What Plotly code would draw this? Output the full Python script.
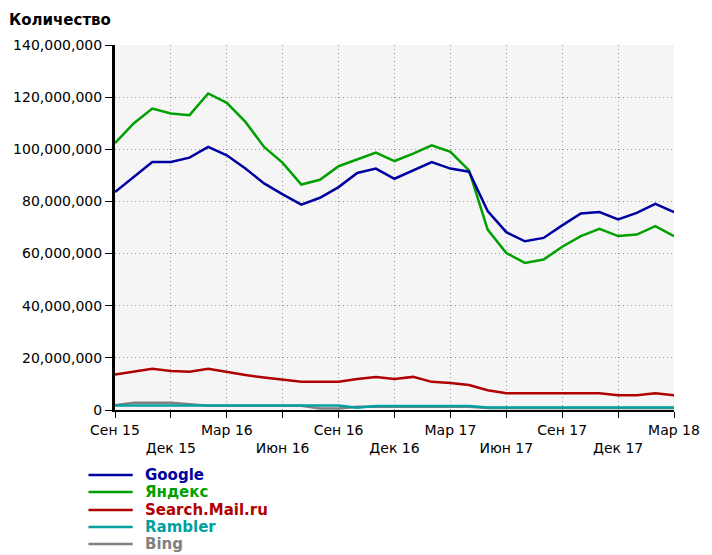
import plotly.graph_objects as go

# ---------------- data ----------------
months = ["Сен 15", "Окт 15", "Ноя 15", "Дек 15", "Янв 16", "Фев 16", "Мар 16",
          "Апр 16", "Май 16", "Июн 16", "Июл 16", "Авг 16", "Сен 16", "Окт 16",
          "Ноя 16", "Дек 16", "Янв 17", "Фев 17", "Мар 17", "Апр 17", "Май 17",
          "Июн 17", "Июл 17", "Авг 17", "Сен 17", "Окт 17", "Ноя 17", "Дек 17",
          "Янв 18", "Фев 18", "Мар 18"]

google = [83.6, 89.3, 95.1, 95.1, 96.8, 100.9, 97.7, 92.6, 86.9, 82.7, 78.8,
          81.4, 85.5, 90.9, 92.6, 88.7, 91.9, 95.1, 92.6, 91.4, 76.3, 68.2,
          64.7, 66.0, 70.8, 75.4, 75.9, 73.1, 75.6, 79.1, 75.9]
yandex = [102.4, 109.9, 115.6, 113.7, 113.1, 121.4, 117.8, 110.5, 100.9, 94.8,
          86.5, 88.3, 93.5, 96.0, 98.7, 95.5, 98.3, 101.5, 99.0, 91.9, 69.2,
          60.2, 56.4, 57.7, 62.6, 66.7, 69.5, 66.7, 67.3, 70.5, 66.7]
mailru = [13.6, 14.7, 15.8, 15.0, 14.7, 15.8, 14.5, 13.4, 12.5, 11.7, 10.8,
          10.8, 10.8, 11.9, 12.7, 11.9, 12.7, 10.8, 10.4, 9.6, 7.6, 6.4,
          6.4, 6.4, 6.4, 6.4, 6.4, 5.7, 5.7, 6.4, 5.7]
rambler = [1.7, 1.7, 1.7, 1.7, 1.7, 1.7, 1.7, 1.7, 1.7, 1.7, 1.7, 1.7, 1.7,
           0.9, 1.5, 1.5, 1.5, 1.5, 1.5, 1.5, 1.0, 1.0, 1.0, 1.0, 1.0, 1.0,
           1.0, 1.0, 1.0, 1.0, 1.0]
bing = [1.8, 2.8, 2.8, 2.8, 2.2, 1.6, 1.6, 1.6, 1.6, 1.6, 1.6, 0.6, 0.6,
        1.2, 1.2, 1.2, 1.2, 1.2, 1.2, 1.2, 0.8, 0.8, 0.8, 0.8, 0.8, 0.8,
        0.8, 0.8, 0.8, 0.8, 0.8]

series_names = ["Google", "Яндекс", "Search.Mail.ru", "Rambler", "Bing"]
series_values = [google, yandex, mailru, rambler, bing]
series_colors = ["#0000a0", "#00a000", "#b00000", "#00a0a0", "#808080"]

tick_months = months[::3]
tick_labels = [m if i % 2 == 0 else "<br>" + m for i, m in enumerate(tick_months)]

y_max = 140_000_000
y_step = 20_000_000
title_text = "Количество"

# ---------------- figure ----------------
W, H = 712, 555
L, R, T, B = 115, 28, 45, 145
pw, ph = W - L - R, H - T - B

fig = go.Figure()
# draw from bottom series to top so Google ends on top, Bing under Rambler
for idx in [4, 3, 2, 1, 0]:
    fig.add_trace(go.Scatter(
        x=months, y=[v * 1_000_000 for v in series_values[idx]],
        mode="lines", name=series_names[idx],
        line=dict(color=series_colors[idx], width=2.5),
        showlegend=False,
    ))

font_main = "DejaVu Sans"
grid_style = dict(showgrid=True, gridcolor="#9a9a9a", gridwidth=1, griddash="1px,3px")

fig.update_layout(
    width=W, height=H,
    margin=dict(l=L, r=R, t=T, b=B, pad=0),
    paper_bgcolor="white",
    plot_bgcolor="#f5f5f5",
    showlegend=False,
    font=dict(family=font_main, size=14, color="black"),
    title=dict(text="<b>" + title_text + "</b>", xref="container", yref="container",
               x=9 / W, y=1 - 20 / H, xanchor="left", yanchor="middle",
               font=dict(family=font_main, size=15, color="black")),
    xaxis=dict(type="category", range=[0, len(months) - 1],
               tickmode="array", tickvals=tick_months, ticktext=tick_labels,
               showline=True, linecolor="black", linewidth=2,
               ticks="outside", ticklen=6, tickcolor="black", tickwidth=1,
               tickfont=dict(family=font_main, size=14, color="black"),
               zeroline=False, **grid_style),
    yaxis=dict(range=[0, y_max], dtick=y_step, tick0=0, tickformat=",d",
               showline=True, linecolor="black", linewidth=3,
               ticks="outside", ticklen=7, tickcolor="black", tickwidth=1,
               tickfont=dict(family=font_main, size=14, color="black"),
               zeroline=False, **grid_style),
)

# manual legend below the chart
legend_rows_px = [475, 492, 510, 527, 544]
for name, color, py in zip(series_names, series_colors, legend_rows_px):
    yp = (H - B - py) / ph
    fig.add_shape(type="line", xref="paper", yref="paper",
                  x0=(88 - L) / pw, x1=(133 - L) / pw, y0=yp, y1=yp,
                  line=dict(color=color, width=2.5))
    fig.add_annotation(xref="paper", yref="paper", x=(143 - L) / pw, y=yp,
                       xanchor="left", yanchor="middle", showarrow=False,
                       text="<b>" + name + "</b>",
                       font=dict(family=font_main, size=15, color=color))

fig.write_html("out.html",
               config={"displayModeBar": False},
               post_script="document.body.style.margin='0';document.body.style.overflow='hidden';")
